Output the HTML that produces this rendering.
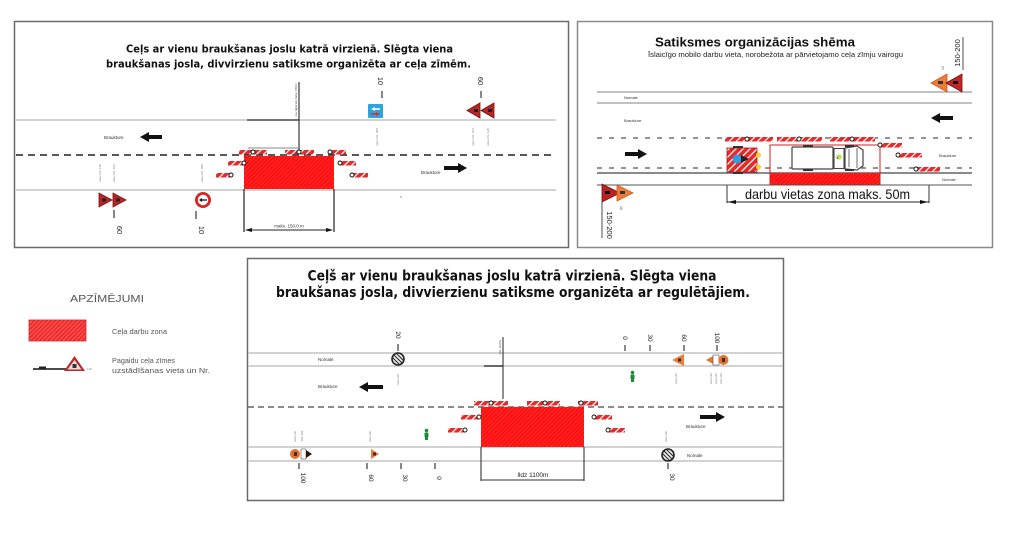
<!DOCTYPE html>
<html><head><meta charset="utf-8">
<style>
html,body{margin:0;padding:0;background:#fff;}
svg{display:block;}
</style></head>
<body>
<svg width="1024" height="541" viewBox="0 0 1024 541" xmlns="http://www.w3.org/2000/svg" font-family="Liberation Sans, sans-serif">
<defs>
<pattern id="bar" width="5" height="5" patternUnits="userSpaceOnUse" patternTransform="rotate(45)">
<rect width="5" height="5" fill="#e42a2a"/><rect width="1.2" height="5" fill="#fff"/>
</pattern>
<pattern id="zone" width="3" height="3" patternUnits="userSpaceOnUse" patternTransform="rotate(45)">
<rect width="3" height="3" fill="#ff1010"/><rect width="0.6" height="3" fill="#ff3a3a"/>
</pattern>
<pattern id="leg" width="3" height="3" patternUnits="userSpaceOnUse" patternTransform="rotate(45)">
<rect width="3" height="3" fill="#ee2a2a"/><rect width="0.8" height="3" fill="#ff6a6a"/>
</pattern>
</defs>
<rect width="1024" height="541" fill="#fff"/>

<!-- ===================== TOP-LEFT PANEL ===================== -->
<rect x="14.5" y="21.5" width="554" height="226" fill="#fff" stroke="#6a6a6a" stroke-width="1.5"/>
<g font-family="DejaVu Sans, Liberation Sans, sans-serif" font-weight="bold" fill="#111" text-anchor="middle">
<text x="289.5" y="52.5" font-size="10.5" textLength="327" lengthAdjust="spacingAndGlyphs">Ceļs ar vienu braukšanas joslu katrā virzienā. Slēgta viena</text>
<text x="288.5" y="67.5" font-size="10.5" textLength="365" lengthAdjust="spacingAndGlyphs">braukšanas josla, divvirzienu satiksme organizēta ar ceļa zīmēm.</text>
</g>
<line x1="16" y1="120" x2="556" y2="120" stroke="#c4c4c4" stroke-width="1.5"/>
<line x1="16" y1="155" x2="556" y2="155" stroke="#222" stroke-width="1.6" stroke-dasharray="7,5"/>
<line x1="16" y1="190" x2="556" y2="190" stroke="#c4c4c4" stroke-width="1.5"/>
<text x="104" y="139" font-size="4.5" fill="#333">Braukture</text>
<path d="M140,137 L149,132 L149,135 L162,135 L162,139 L149,139 L149,142 Z" fill="#111"/>
<text x="421" y="174" font-size="4.5" fill="#333">Braukture</text>
<path d="M467,168 L458,163 L458,166 L444,166 L444,170 L458,170 L458,173 Z" fill="#111"/>
<!-- zone -->
<line x1="299" y1="82" x2="299" y2="153" stroke="#111" stroke-width="1"/>
<line x1="247" y1="120" x2="299" y2="120" stroke="#333" stroke-width="1.2"/>
<line x1="248" y1="148" x2="299" y2="148" stroke="#888" stroke-width="1"/>
<text transform="translate(297,100) rotate(-90)" font-size="3" fill="#444" text-anchor="middle">nav ilgāk kā maks. 150m</text>
<rect x="244" y="156" width="90" height="33" fill="url(#zone)"/>
<rect x="239" y="150" width="28" height="4.5" fill="url(#bar)"/>
<rect x="285" y="150" width="29" height="4.5" fill="url(#bar)"/>
<rect x="330" y="150" width="16" height="4.5" fill="url(#bar)"/>
<rect x="228" y="161" width="16" height="4.5" fill="url(#bar)"/>
<rect x="216" y="173" width="15" height="4.5" fill="url(#bar)"/>
<rect x="340" y="161" width="16" height="4.5" fill="url(#bar)"/>
<rect x="352" y="173" width="16" height="4.5" fill="url(#bar)"/>
<g fill="#fff" stroke="#111" stroke-width="1">
<circle cx="253" cy="152" r="2"/><circle cx="299" cy="152" r="2"/><circle cx="330" cy="152" r="2"/>
<circle cx="244" cy="163" r="2"/><circle cx="231" cy="175" r="2"/>
<circle cx="340" cy="163" r="2"/><circle cx="352" cy="175" r="2"/>
</g>
<line x1="244" y1="189" x2="244" y2="232" stroke="#222" stroke-width="1.2"/>
<line x1="334" y1="189" x2="334" y2="232" stroke="#222" stroke-width="1.2"/>
<line x1="246" y1="230" x2="332" y2="230" stroke="#222" stroke-width="1"/>
<path d="M245,230 L252,228 L252,232 Z M333,230 L326,228 L326,232 Z" fill="#111"/>
<text x="289" y="227.5" font-size="4.5" fill="#333" text-anchor="middle">maks. 150,0 m</text>
<!-- blue sign -->
<rect x="368" y="104" width="15" height="14" rx="1" fill="#2ea3dc"/>
<path d="M371,109 L375,107 L375,108.3 L380,108.3 L380,109.7 L375,109.7 L375,111 Z" fill="#fff"/>
<path d="M380,114 L376,112 L376,113.3 L371,113.3 L371,114.7 L376,114.7 L376,116 Z" fill="#d83030"/>
<line x1="382" y1="91" x2="382" y2="98" stroke="#111" stroke-width="1"/>
<text transform="translate(378,81) rotate(90)" font-size="7.5" fill="#222" text-anchor="middle">10</text>
<text transform="translate(378,137) rotate(-90)" font-size="3" fill="#777" text-anchor="middle">ceļa zīm. 306</text>
<!-- triangles top right -->
<polygon points="467,110.5 480,103 480,118" fill="#b82525" stroke="#7a1212" stroke-width="0.8"/>
<polygon points="481,110.5 494,103 494,118" fill="#b82525" stroke="#7a1212" stroke-width="0.8"/>
<rect x="474" y="109" width="4" height="3" fill="#222"/><rect x="488" y="109" width="4" height="3" fill="#222"/>
<line x1="481" y1="91" x2="481" y2="98" stroke="#111" stroke-width="1"/>
<text transform="translate(478,81) rotate(90)" font-size="7.5" fill="#222" text-anchor="middle">60</text>
<text transform="translate(474,137) rotate(-90)" font-size="3" fill="#777" text-anchor="middle">ceļa zīm. 101</text>
<text transform="translate(489,137) rotate(-90)" font-size="3" fill="#777" text-anchor="middle">ceļa zīm. 118</text>
<!-- bottom left signs -->
<polygon points="112,200 99,193 99,207" fill="#b82525" stroke="#7a1212" stroke-width="0.8"/>
<polygon points="126,200 113,193 113,207" fill="#b82525" stroke="#7a1212" stroke-width="0.8"/>
<rect x="102" y="198.5" width="4" height="3" fill="#222"/><rect x="116" y="198.5" width="4" height="3" fill="#222"/>
<line x1="114" y1="210" x2="114" y2="218" stroke="#111" stroke-width="1"/>
<text transform="translate(117,230) rotate(90)" font-size="7.5" fill="#222" text-anchor="middle">60</text>
<text transform="translate(101,173) rotate(-90)" font-size="3" fill="#777" text-anchor="middle">ceļa zīm. 118</text>
<text transform="translate(115,173) rotate(-90)" font-size="3" fill="#777" text-anchor="middle">ceļa zīm. 101</text>
<circle cx="203" cy="200" r="8" fill="#d42828"/>
<circle cx="203" cy="200" r="5.2" fill="#fff"/>
<path d="M199,200 L202,198 L202,199.4 L207,199.4 L207,200.6 L202,200.6 L202,202 Z" fill="#111"/>
<line x1="196" y1="211" x2="196" y2="219" stroke="#111" stroke-width="1"/>
<text transform="translate(199,230) rotate(90)" font-size="7.5" fill="#222" text-anchor="middle">10</text>
<text transform="translate(203,173) rotate(-90)" font-size="3" fill="#777" text-anchor="middle">ceļa zīm. 305</text>
<circle cx="401" cy="197" r="0.6" fill="#555"/>

<!-- ===================== TOP-RIGHT PANEL ===================== -->
<rect x="577.5" y="21.5" width="415" height="226" fill="#fff" stroke="#8a8a8a" stroke-width="1.5"/>
<text x="755" y="46.5" font-size="13" font-weight="bold" fill="#111" text-anchor="middle" textLength="200" lengthAdjust="spacingAndGlyphs">Satiksmes organizācijas shēma</text>
<text x="775.5" y="57" font-size="7.5" fill="#222" text-anchor="middle" textLength="255" lengthAdjust="spacingAndGlyphs">Īslaicīgo mobilo darbu vieta, norobežota ar pārvietojamo ceļa zīmju vairogu</text>
<line x1="597" y1="92" x2="972" y2="92" stroke="#9a9a9a" stroke-width="1.3"/>
<line x1="597" y1="103" x2="972" y2="103" stroke="#9a9a9a" stroke-width="1.3"/>
<line x1="597" y1="138" x2="972" y2="138" stroke="#555" stroke-width="1.2" stroke-dasharray="5,7"/>
<line x1="597" y1="168" x2="972" y2="168" stroke="#555" stroke-width="1.2" stroke-dasharray="5,7"/>
<line x1="597" y1="173" x2="972" y2="173" stroke="#444" stroke-width="1.2"/>
<line x1="597" y1="185" x2="972" y2="185" stroke="#777" stroke-width="1.2"/>
<text x="624" y="99" font-size="4" fill="#333">Nomale</text>
<text x="624" y="122" font-size="4" fill="#333">Braukture</text>
<text x="939" y="157" font-size="4" fill="#333">Braukture</text>
<text x="942" y="181" font-size="4" fill="#333">Nomale</text>
<path d="M647,154 L638,149 L638,152 L625,152 L625,156 L638,156 L638,159 Z" fill="#111"/>
<path d="M931,118 L940,113 L940,116 L953,116 L953,120 L940,120 L940,123 Z" fill="#111"/>
<!-- top right triangles -->
<polygon points="931,83 947,74 947,92" fill="#f07a38" stroke="#c85a20" stroke-width="0.8"/>
<polygon points="946,83 962,74 962,92" fill="#c02626" stroke="#7a1010" stroke-width="0.8"/>
<rect x="938" y="81" width="5" height="3" fill="#333"/><rect x="953" y="81" width="5" height="3" fill="#111"/>
<text transform="translate(944,68) rotate(-90)" font-size="3.5" fill="#555" text-anchor="middle">10</text>
<line x1="963" y1="37" x2="963" y2="70" stroke="#222" stroke-width="0.8"/>
<text transform="translate(960,53) rotate(-90)" font-size="7.5" fill="#222" text-anchor="middle">150-200</text>
<!-- bottom left triangles -->
<polygon points="620,193 602,184 602,202" fill="#b82222" stroke="#7a1010" stroke-width="0.8"/>
<polygon points="633,193 617,185 617,201" fill="#f07a38" stroke="#c85a20" stroke-width="0.8"/>
<rect x="605" y="191" width="5" height="3" fill="#111"/><rect x="620" y="191" width="5" height="3" fill="#333"/>
<line x1="602" y1="202" x2="602" y2="238" stroke="#222" stroke-width="0.8"/>
<text transform="translate(607,225) rotate(90)" font-size="7.5" fill="#222" text-anchor="middle">150-200</text>
<text transform="translate(620,208) rotate(90)" font-size="3.5" fill="#555" text-anchor="middle">10</text>
<!-- work zone -->
<rect x="770" y="173" width="110" height="11.5" fill="url(#zone)"/>
<rect x="770" y="145" width="110" height="39.5" fill="none" stroke="#d02020" stroke-width="1"/>
<!-- truck -->
<rect x="792" y="147" width="41" height="22" rx="1" fill="#fff" stroke="#444" stroke-width="1.2"/>
<rect x="803" y="145" width="10" height="2" fill="#333"/><rect x="803" y="169" width="10" height="2" fill="#333"/>
<rect x="834" y="148.5" width="10" height="20" fill="#fff" stroke="#444" stroke-width="1.1"/>
<path d="M845,148 L857,146 L863,150 L863,166 L857,170 L845,169 Z" fill="#fff" stroke="#444" stroke-width="1.2"/>
<path d="M849,149 L849,167 M857,148 L857,168" stroke="#444" stroke-width="0.8"/>
<rect x="845" y="145" width="9" height="2" fill="#333"/><rect x="845" y="169" width="9" height="2" fill="#333"/>
<circle cx="839" cy="157" r="2.6" fill="#b8e04a"/>
<text x="836" y="159" font-size="4" fill="#111">1</text>
<!-- trailer -->
<rect x="727" y="148" width="30" height="24" fill="url(#bar)" stroke="#a01818" stroke-width="0.8"/>
<rect x="733" y="146" width="10" height="2" fill="#333"/><rect x="733" y="172" width="10" height="2" fill="#333"/>
<circle cx="737" cy="159" r="4.5" fill="#2aa0e2"/>
<polygon points="741,155 749,159 741,163" fill="#222"/>
<circle cx="758.5" cy="155" r="2.5" fill="#f6d22a"/><circle cx="758.5" cy="167" r="2.5" fill="#f6d22a"/>
<!-- barriers -->
<rect x="725" y="137" width="48" height="4.5" fill="url(#bar)"/>
<rect x="777" y="137" width="45" height="4.5" fill="url(#bar)"/>
<rect x="830" y="137" width="45" height="4.5" fill="url(#bar)"/>
<rect x="880" y="143" width="22" height="4.5" fill="url(#bar)"/>
<rect x="897" y="153" width="25" height="4.5" fill="url(#bar)"/>
<rect x="915" y="167" width="25" height="4.5" fill="url(#bar)"/>
<g fill="#fff" stroke="#111" stroke-width="0.9">
<circle cx="747" cy="139" r="2"/><circle cx="799" cy="139" r="2"/><circle cx="852" cy="139" r="2"/>
<circle cx="880" cy="145" r="2"/><circle cx="898" cy="155" r="2"/><circle cx="916" cy="169" r="2"/>
</g>
<!-- dimension -->
<line x1="727" y1="185" x2="727" y2="203" stroke="#222" stroke-width="0.9"/>
<line x1="929" y1="185" x2="929" y2="203" stroke="#222" stroke-width="0.9"/>
<line x1="727" y1="202" x2="929" y2="202" stroke="#222" stroke-width="0.9"/>
<path d="M728,202 L736,200 L736,204 Z M928,202 L920,200 L920,204 Z" fill="#111"/>
<text x="745" y="199" font-size="14" fill="#111" textLength="165" lengthAdjust="spacingAndGlyphs">darbu vietas zona maks. 50m</text>

<!-- ===================== BOTTOM PANEL ===================== -->
<rect x="247.5" y="258.5" width="536" height="242" fill="#fff" stroke="#6a6a6a" stroke-width="1.5"/>
<g font-family="DejaVu Sans, Liberation Sans, sans-serif" font-weight="bold" fill="#111" text-anchor="middle">
<text x="512" y="280.5" font-size="14" textLength="409" lengthAdjust="spacingAndGlyphs">Ceļš ar vienu braukšanas joslu katrā virzienā. Slēgta viena</text>
<text x="513" y="297" font-size="14" textLength="474" lengthAdjust="spacingAndGlyphs">braukšanas josla, divvierzienu satiksme organizēta ar regulētājiem.</text>
</g>
<line x1="248" y1="353" x2="783" y2="353" stroke="#c4c4c4" stroke-width="1.5"/>
<line x1="248" y1="366" x2="783" y2="366" stroke="#c4c4c4" stroke-width="1.5"/>
<line x1="248" y1="407" x2="783" y2="407" stroke="#666" stroke-width="1.5" stroke-dasharray="6,4"/>
<line x1="248" y1="447" x2="783" y2="447" stroke="#c4c4c4" stroke-width="1.5"/>
<line x1="248" y1="461" x2="783" y2="461" stroke="#c4c4c4" stroke-width="1.5"/>
<text x="318" y="361" font-size="4.5" fill="#333">Nomale</text>
<text x="318" y="388" font-size="4.5" fill="#333">Braukture</text>
<path d="M359,387 L368,382 L368,385 L383,385 L383,389 L368,389 L368,392 Z" fill="#111"/>
<text x="686" y="428" font-size="4.5" fill="#333">Braukture</text>
<path d="M725,417 L716,412 L716,415 L700,415 L700,419 L716,419 L716,422 Z" fill="#111"/>
<text x="687" y="457" font-size="4.5" fill="#333">Nomale</text>
<!-- zone -->
<line x1="503" y1="337" x2="503" y2="399" stroke="#222" stroke-width="1"/>
<line x1="484" y1="366" x2="503" y2="366" stroke="#222" stroke-width="1.2"/>
<text transform="translate(501,347) rotate(-90)" font-size="3" fill="#555" text-anchor="middle">līdz 1100m</text>
<rect x="481" y="407" width="103" height="40" fill="url(#zone)"/>
<rect x="474" y="401" width="34" height="4.5" fill="url(#bar)"/>
<rect x="527" y="401" width="33" height="4.5" fill="url(#bar)"/>
<rect x="578" y="401" width="20" height="4.5" fill="url(#bar)"/>
<rect x="461" y="415" width="18" height="4.5" fill="url(#bar)"/>
<rect x="448" y="428" width="18" height="4.5" fill="url(#bar)"/>
<rect x="593" y="415" width="19" height="4.5" fill="url(#bar)"/>
<rect x="607" y="428" width="18" height="4.5" fill="url(#bar)"/>
<g fill="#fff" stroke="#111" stroke-width="0.9">
<circle cx="491" cy="403" r="2"/><circle cx="545" cy="403" r="2"/><circle cx="581" cy="403" r="2"/>
<circle cx="479" cy="417" r="2"/><circle cx="465" cy="430" r="2"/>
<circle cx="594" cy="417" r="2"/><circle cx="608" cy="430" r="2"/>
</g>
<line x1="481" y1="447" x2="481" y2="481" stroke="#333" stroke-width="1.1"/>
<line x1="584" y1="447" x2="584" y2="481" stroke="#333" stroke-width="1.1"/>
<line x1="481" y1="480" x2="584" y2="480" stroke="#333" stroke-width="1.1"/>
<text x="533" y="477" font-size="6.5" fill="#222" text-anchor="middle">lldz 1100m</text>
<!-- signs left -->
<circle cx="398" cy="359" r="6" fill="#eee" stroke="#222" stroke-width="1.6"/>
<path d="M394,355 L402,363 M392.5,357.5 L399.5,364.5 M396.5,353.5 L403.5,360.5" stroke="#222" stroke-width="1"/>
<line x1="398" y1="344" x2="398" y2="351" stroke="#111" stroke-width="1"/>
<text transform="translate(396,335) rotate(90)" font-size="6.5" fill="#222" text-anchor="middle">20</text>
<text transform="translate(399,379) rotate(-90)" font-size="3" fill="#777" text-anchor="middle">ceļa zīm.</text>
<circle cx="295" cy="454" r="5" fill="#e8702e"/>
<rect x="294" y="452" width="3" height="4" fill="#333"/>
<rect x="301" y="449" width="5" height="10" fill="#fff" stroke="#555" stroke-width="0.6"/>
<polygon points="306,450 312,454 306,458" fill="#331111"/>
<polygon points="379,454 371,449 371,459" fill="#f07a38"/>
<rect x="373" y="452.5" width="3" height="3" fill="#333"/>
<text transform="translate(296,436) rotate(-90)" font-size="3" fill="#777" text-anchor="middle">ceļa zīm.</text>
<text transform="translate(303,436) rotate(-90)" font-size="3" fill="#777" text-anchor="middle">101 302</text>
<text transform="translate(371,436) rotate(-90)" font-size="3" fill="#777" text-anchor="middle">ceļa zīm.</text>
<g stroke="#111" stroke-width="1">
<line x1="299" y1="463" x2="299" y2="469"/><line x1="367" y1="463" x2="367" y2="469"/>
<line x1="401" y1="463" x2="401" y2="469"/><line x1="435" y1="463" x2="435" y2="469"/>
</g>
<g font-size="6.5" fill="#222" text-anchor="middle">
<text transform="translate(301,478) rotate(90)">100</text>
<text transform="translate(369,478) rotate(90)">60</text>
<text transform="translate(403,478) rotate(90)">30</text>
<text transform="translate(437,478) rotate(90)">0</text>
</g>
<!-- person left -->
<g fill="#1e8a3a">
<circle cx="426.5" cy="430.5" r="1.8"/>
<rect x="424.5" y="432.5" width="4" height="5" rx="1"/>
<rect x="425" y="437" width="3" height="3"/>
</g>
<!-- signs right -->
<g stroke="#111" stroke-width="1">
<line x1="625" y1="345" x2="625" y2="351"/><line x1="650" y1="345" x2="650" y2="351"/>
<line x1="684" y1="345" x2="684" y2="351"/><line x1="717" y1="345" x2="717" y2="351"/>
</g>
<g font-size="6.5" fill="#222" text-anchor="middle">
<text transform="translate(623,338) rotate(90)">0</text>
<text transform="translate(648,338) rotate(90)">30</text>
<text transform="translate(682,338) rotate(90)">60</text>
<text transform="translate(715,338) rotate(90)">100</text>
</g>
<polygon points="672,360 684,354 684,366" fill="#f07a38"/>
<rect x="678" y="358.5" width="3" height="3" fill="#333"/>
<polygon points="706,360 713,356 713,364" fill="#e8702e"/>
<rect x="713" y="355" width="6" height="10" fill="#fff" stroke="#555" stroke-width="0.6"/>
<circle cx="723.5" cy="360" r="5" fill="#e8702e"/>
<rect x="722" y="358" width="3" height="4" fill="#333"/>
<text transform="translate(677,378) rotate(-90)" font-size="3" fill="#777" text-anchor="middle">ceļa zīm.</text>
<text transform="translate(712,378) rotate(-90)" font-size="3" fill="#777" text-anchor="middle">ceļa zīm.</text>
<text transform="translate(717,378) rotate(-90)" font-size="3" fill="#777" text-anchor="middle">ceļa zīm.</text>
<text transform="translate(722,378) rotate(-90)" font-size="3" fill="#777" text-anchor="middle">ceļa zīm.</text>
<g fill="#1e8a3a">
<circle cx="632.5" cy="372.5" r="1.8"/>
<rect x="630.5" y="374.5" width="4" height="5" rx="1"/>
<rect x="631" y="379" width="3" height="3"/>
</g>
<circle cx="668" cy="455" r="6" fill="#eee" stroke="#222" stroke-width="1.6"/>
<path d="M664,451 L672,459 M662.5,453.5 L669.5,460.5 M666.5,449.5 L673.5,456.5" stroke="#222" stroke-width="1"/>
<line x1="668" y1="463" x2="668" y2="469" stroke="#111" stroke-width="1"/>
<text transform="translate(670,477) rotate(90)" font-size="6.5" fill="#222" text-anchor="middle">30</text>
<text transform="translate(667,436) rotate(-90)" font-size="3" fill="#777" text-anchor="middle">ceļa zīm.</text>

<!-- ===================== LEGEND ===================== -->
<text x="70" y="302" font-size="10.5" fill="#555" textLength="74" lengthAdjust="spacingAndGlyphs">APZĪMĒJUMI</text>
<rect x="29" y="320" width="57" height="21" fill="url(#leg)" stroke="#d02a2a" stroke-width="0.8"/>
<text x="112" y="334" font-size="7.5" fill="#555" textLength="55" lengthAdjust="spacingAndGlyphs">Ceļa darbu zona</text>
<line x1="33" y1="369" x2="66" y2="369" stroke="#111" stroke-width="1.4"/>
<rect x="39" y="366.5" width="7" height="2.5" fill="#222"/>
<polygon points="74.5,356 64,371 85,371" fill="#b82a2a"/>
<polygon points="74.5,360 67.5,369.5 81.5,369.5" fill="#e8e0e0"/>
<rect x="72.5" y="364" width="4" height="4" fill="#333"/>
<text x="87" y="370" font-size="3" fill="#888">118</text>
<text x="112" y="363" font-size="7.5" fill="#555" textLength="63" lengthAdjust="spacingAndGlyphs">Pagaidu ceļa zīmes</text>
<text x="112" y="373" font-size="7.5" fill="#555" textLength="98" lengthAdjust="spacingAndGlyphs">uzstādīšanas vieta un Nr.</text>
</svg>
</body></html>
